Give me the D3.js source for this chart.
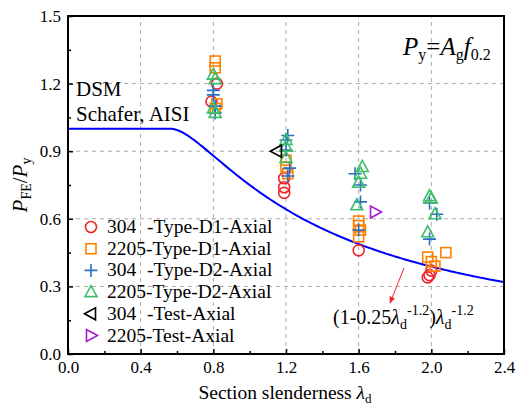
<!DOCTYPE html>
<html>
  <head>
    <meta charset="utf-8">
    <title>DSM distortional comparison</title>
    <script src="https://d3js.org/d3.v7.min.js"></script>
  </head>
  <style>
    body { margin: 0; background: #fff; }
    svg { font-family: "Liberation Serif", "Times New Roman", serif; }
    .grid line { stroke: #aaa; stroke-dasharray: 4,4; stroke-width: 1; }
    .mark { fill: none; stroke-width: 1.6; }
  </style>
  <body>
    <script type="text/javascript">
        var width = 520;
        var height = 406;

        // tick values
        const xTicks = [0.0, 0.4, 0.8, 1.2, 1.6, 2.0, 2.4];
        const yTicks = [0.0, 0.3, 0.6, 0.9, 1.2, 1.5];

        // [lambda_d, P_FE/P_y]
        const d1_304 = [[0.79, 1.12], [0.82, 1.20], [1.19, 0.78], [1.19, 0.74], [1.19, 0.715],
                        [1.60, 0.46], [1.98, 0.34], [1.99, 0.35], [2.00, 0.37]];
        const d1_2205 = [[0.81, 1.30], [0.81, 1.27], [0.82, 1.11], [0.81, 1.09],
                         [1.20, 0.86], [1.20, 0.83], [1.21, 0.80],
                         [1.60, 0.59], [1.60, 0.57], [1.61, 0.55], [1.60, 0.52],
                         [1.98, 0.43], [2.00, 0.41], [2.02, 0.39], [2.08, 0.45]];
        const d2_304 = [[0.80, 1.17], [0.80, 1.15], [0.81, 1.10], [0.81, 1.07],
                        [1.21, 0.97], [1.20, 0.95], [1.20, 0.905], [1.22, 0.825], [1.21, 0.79],
                        [1.58, 0.80], [1.61, 0.75], [1.61, 0.675], [1.60, 0.55],
                        [1.99, 0.67], [2.03, 0.62], [1.99, 0.51]];
        const d2_2205 = [[0.80, 1.24], [0.81, 1.22], [0.80, 1.09], [0.81, 1.07],
                         [1.20, 0.95], [1.20, 0.92], [1.20, 0.87],
                         [1.62, 0.83], [1.61, 0.80], [1.60, 0.76], [1.59, 0.66],
                         [1.99, 0.70], [2.00, 0.69], [2.02, 0.62], [1.98, 0.54]];
        const test_304 = [[1.15, 0.90]];
        const test_2205 = [[1.69, 0.63]];

        const seriesNames = ["304", "2205", "304", "2205", "304", "2205"];
        const seriesSuffix = ["-Type-D1-Axial", "-Type-D1-Axial", "-Type-D2-Axial",
                              "-Type-D2-Axial", "-Test-Axial", "-Test-Axial"];
        const seriesData = [d1_304, d1_2205, d2_304, d2_2205, test_304, test_2205];
        const seriesShape = ["circle", "square", "plus", "up", "left", "right"];
        const seriesColor = ["#f0242a", "#ff8000", "#2a6fc4", "#3dbf6a", "#000000", "#a81ad0"];

        // DSM distortional strength curve
        function dsm(l) {
          if (l <= 0.561) return 1.0;
          const r = Math.pow(l, -1.2);
          return (1 - 0.25 * r) * r;
        }

        const margin = {left: 68, right: 16, top: 16, bottom: 52};
        const x = d3.scaleLinear().domain([0, 2.4]).range([margin.left, width - margin.right]);
        const y = d3.scaleLinear().domain([0, 1.5]).range([height - margin.bottom, margin.top]);

        const svg = d3.select('body').append('svg').attr('width', width).attr('height', height);

        // grid
        const grid = svg.append('g').attr('class', 'grid');
        grid.selectAll('.gx').data(xTicks.slice(1, -1)).enter().append('line')
          .attr('x1', d => x(d)).attr('x2', d => x(d)).attr('y1', y(0)).attr('y2', y(1.5));
        grid.selectAll('.gy').data(yTicks.slice(1, -1)).enter().append('line')
          .attr('y1', d => y(d)).attr('y2', d => y(d)).attr('x1', x(0)).attr('x2', x(2.4));

        // axes
        const xAxis = svg.append('g').attr('transform', `translate(0,${y(0)})`)
          .call(d3.axisBottom(x).tickValues(xTicks).tickFormat(d3.format('.1f')).tickSizeInner(-5).tickSizeOuter(0).tickPadding(7));
        const xMinor = svg.append('g').attr('transform', `translate(0,${y(0)})`)
          .call(d3.axisBottom(x).tickValues(d3.range(0.2, 2.4, 0.4)).tickFormat('').tickSizeInner(-3).tickSizeOuter(0));
        const yAxis = svg.append('g').attr('transform', `translate(${x(0)},0)`)
          .call(d3.axisLeft(y).tickValues(yTicks).tickFormat(d3.format('.1f')).tickSizeInner(-5).tickSizeOuter(0).tickPadding(7));
        const yMinor = svg.append('g').attr('transform', `translate(${x(0)},0)`)
          .call(d3.axisLeft(y).tickValues(d3.range(0.15, 1.5, 0.3)).tickFormat('').tickSizeInner(-3).tickSizeOuter(0));
        [xAxis, xMinor, yAxis, yMinor].forEach(g => {
          g.select('.domain').remove();
          g.selectAll('line').attr('stroke', '#000').attr('stroke-width', 1.5);
          g.selectAll('text').attr('font-size', 17).attr('font-family', '"Liberation Serif", serif').attr('fill', '#000');
        });

        // DSM curve
        const curvePts = d3.range(0, 2.4001, 0.01).map(l => [l, dsm(l)]);
        svg.append('path').datum(curvePts)
          .attr('fill', 'none').attr('stroke', '#0000ff').attr('stroke-width', 2)
          .attr('d', d3.line().x(d => x(d[0])).y(d => y(d[1])));

        // markers
        function drawMark(g, shape, cx, cy, color) {
          if (shape === 'circle') {
            g.append('circle').attr('class', 'mark').attr('cx', cx).attr('cy', cy).attr('r', 5.5).attr('stroke', color);
          } else if (shape === 'square') {
            g.append('rect').attr('class', 'mark').attr('x', cx - 5).attr('y', cy - 5).attr('width', 10).attr('height', 10).attr('stroke', color);
          } else if (shape === 'plus') {
            g.append('path').attr('class', 'mark').attr('stroke', color)
              .attr('d', `M${cx - 6.5},${cy}H${cx + 6.5}M${cx},${cy - 6.5}V${cy + 6.5}`);
          } else {
            const tri = {up: [[0, -6.5], [6, 4.5], [-6, 4.5]], left: [[-6.5, 0], [4.5, -6], [4.5, 6]], right: [[6.5, 0], [-4.5, -6], [-4.5, 6]]}[shape];
            g.append('path').attr('class', 'mark').attr('stroke', color)
              .attr('d', 'M' + tri.map(p => `${cx + p[0]},${cy + p[1]}`).join('L') + 'Z');
          }
        }
        const gMarks = svg.append('g');
        seriesData.forEach((data, i) => {
          data.forEach(d => drawMark(gMarks, seriesShape[i], x(d[0]), y(d[1]), seriesColor[i]));
        });

        // frame
        svg.append('rect').attr('x', x(0)).attr('y', y(1.5)).attr('width', x(2.4) - x(0)).attr('height', y(0) - y(1.5))
          .attr('fill', 'none').attr('stroke', '#000').attr('stroke-width', 2);

        // legend
        const gLeg = svg.append('g').attr('font-size', 19.5);
        seriesNames.forEach((n, i) => {
          const ly = 227 + i * 21.7;
          drawMark(gLeg, seriesShape[i], 91, ly, seriesColor[i]);
          gLeg.append('text').attr('x', 107).attr('y', ly + 6).text(n);
          gLeg.append('text').attr('x', n === '304' ? 147 : 146).attr('y', ly + 6).text(seriesSuffix[i]);
        });

        // annotations
        svg.append('text').attr('x', 76).attr('y', 96).attr('font-size', 21).text('DSM');
        svg.append('text').attr('x', 76).attr('y', 121).attr('font-size', 21).text('Schafer, AISI');

        const py = svg.append('text').attr('x', 403).attr('y', 55).attr('font-size', 25);
        py.append('tspan').attr('font-style', 'italic').text('P');
        py.append('tspan').attr('font-size', 16).attr('dy', 5).text('y');
        py.append('tspan').attr('dy', -5).text('=');
        py.append('tspan').attr('font-style', 'italic').text('A');
        py.append('tspan').attr('font-size', 16).attr('dy', 5).text('g');
        py.append('tspan').attr('font-style', 'italic').attr('dy', -5).text('f');
        py.append('tspan').attr('font-size', 16).attr('dy', 5).text('0.2');

        const fm = svg.append('text').attr('x', 333).attr('y', 324).attr('font-size', 20);
        fm.append('tspan').text('(1-0.25');
        fm.append('tspan').attr('font-style', 'italic').text('λ');
        fm.append('tspan').attr('font-size', 14).attr('dy', 5).text('d');
        fm.append('tspan').attr('font-size', 14).attr('dy', -14).text('-1.2');
        fm.append('tspan').attr('dy', 9).text(')');
        fm.append('tspan').attr('font-style', 'italic').text('λ');
        fm.append('tspan').attr('font-size', 14).attr('dy', 5).text('d');
        fm.append('tspan').attr('font-size', 14).attr('dy', -14).text('-1.2');

        svg.append('defs').append('marker').attr('id', 'ah').attr('viewBox', '0 0 10 10')
          .attr('refX', 9).attr('refY', 5).attr('markerWidth', 7).attr('markerHeight', 7).attr('orient', 'auto')
          .append('path').attr('d', 'M0,1L10,5L0,9Z').attr('fill', '#f0242a');
        svg.append('line').attr('x1', 404).attr('y1', 268).attr('x2', 390).attr('y2', 303)
          .attr('stroke', '#f0242a').attr('stroke-width', 1).attr('marker-end', 'url(#ah)');

        // axis titles
        const xl = svg.append('text').attr('x', 285).attr('y', 399).attr('text-anchor', 'middle').attr('font-size', 19.5);
        xl.append('tspan').text('Section slenderness ');
        xl.append('tspan').attr('font-style', 'italic').text('λ');
        xl.append('tspan').attr('font-size', 13).attr('dy', 4).text('d');

        const yl = svg.append('text').attr('transform', `translate(27,${y(0.75)}) rotate(-90)`).attr('text-anchor', 'middle').attr('font-size', 21);
        yl.append('tspan').attr('font-style', 'italic').text('P');
        yl.append('tspan').attr('font-size', 14).attr('dy', 4).text('FE');
        yl.append('tspan').attr('dy', -4).text('/');
        yl.append('tspan').attr('font-style', 'italic').text('P');
        yl.append('tspan').attr('font-size', 14).attr('dy', 4).text('y');
    </script>
  </body>
</html>
